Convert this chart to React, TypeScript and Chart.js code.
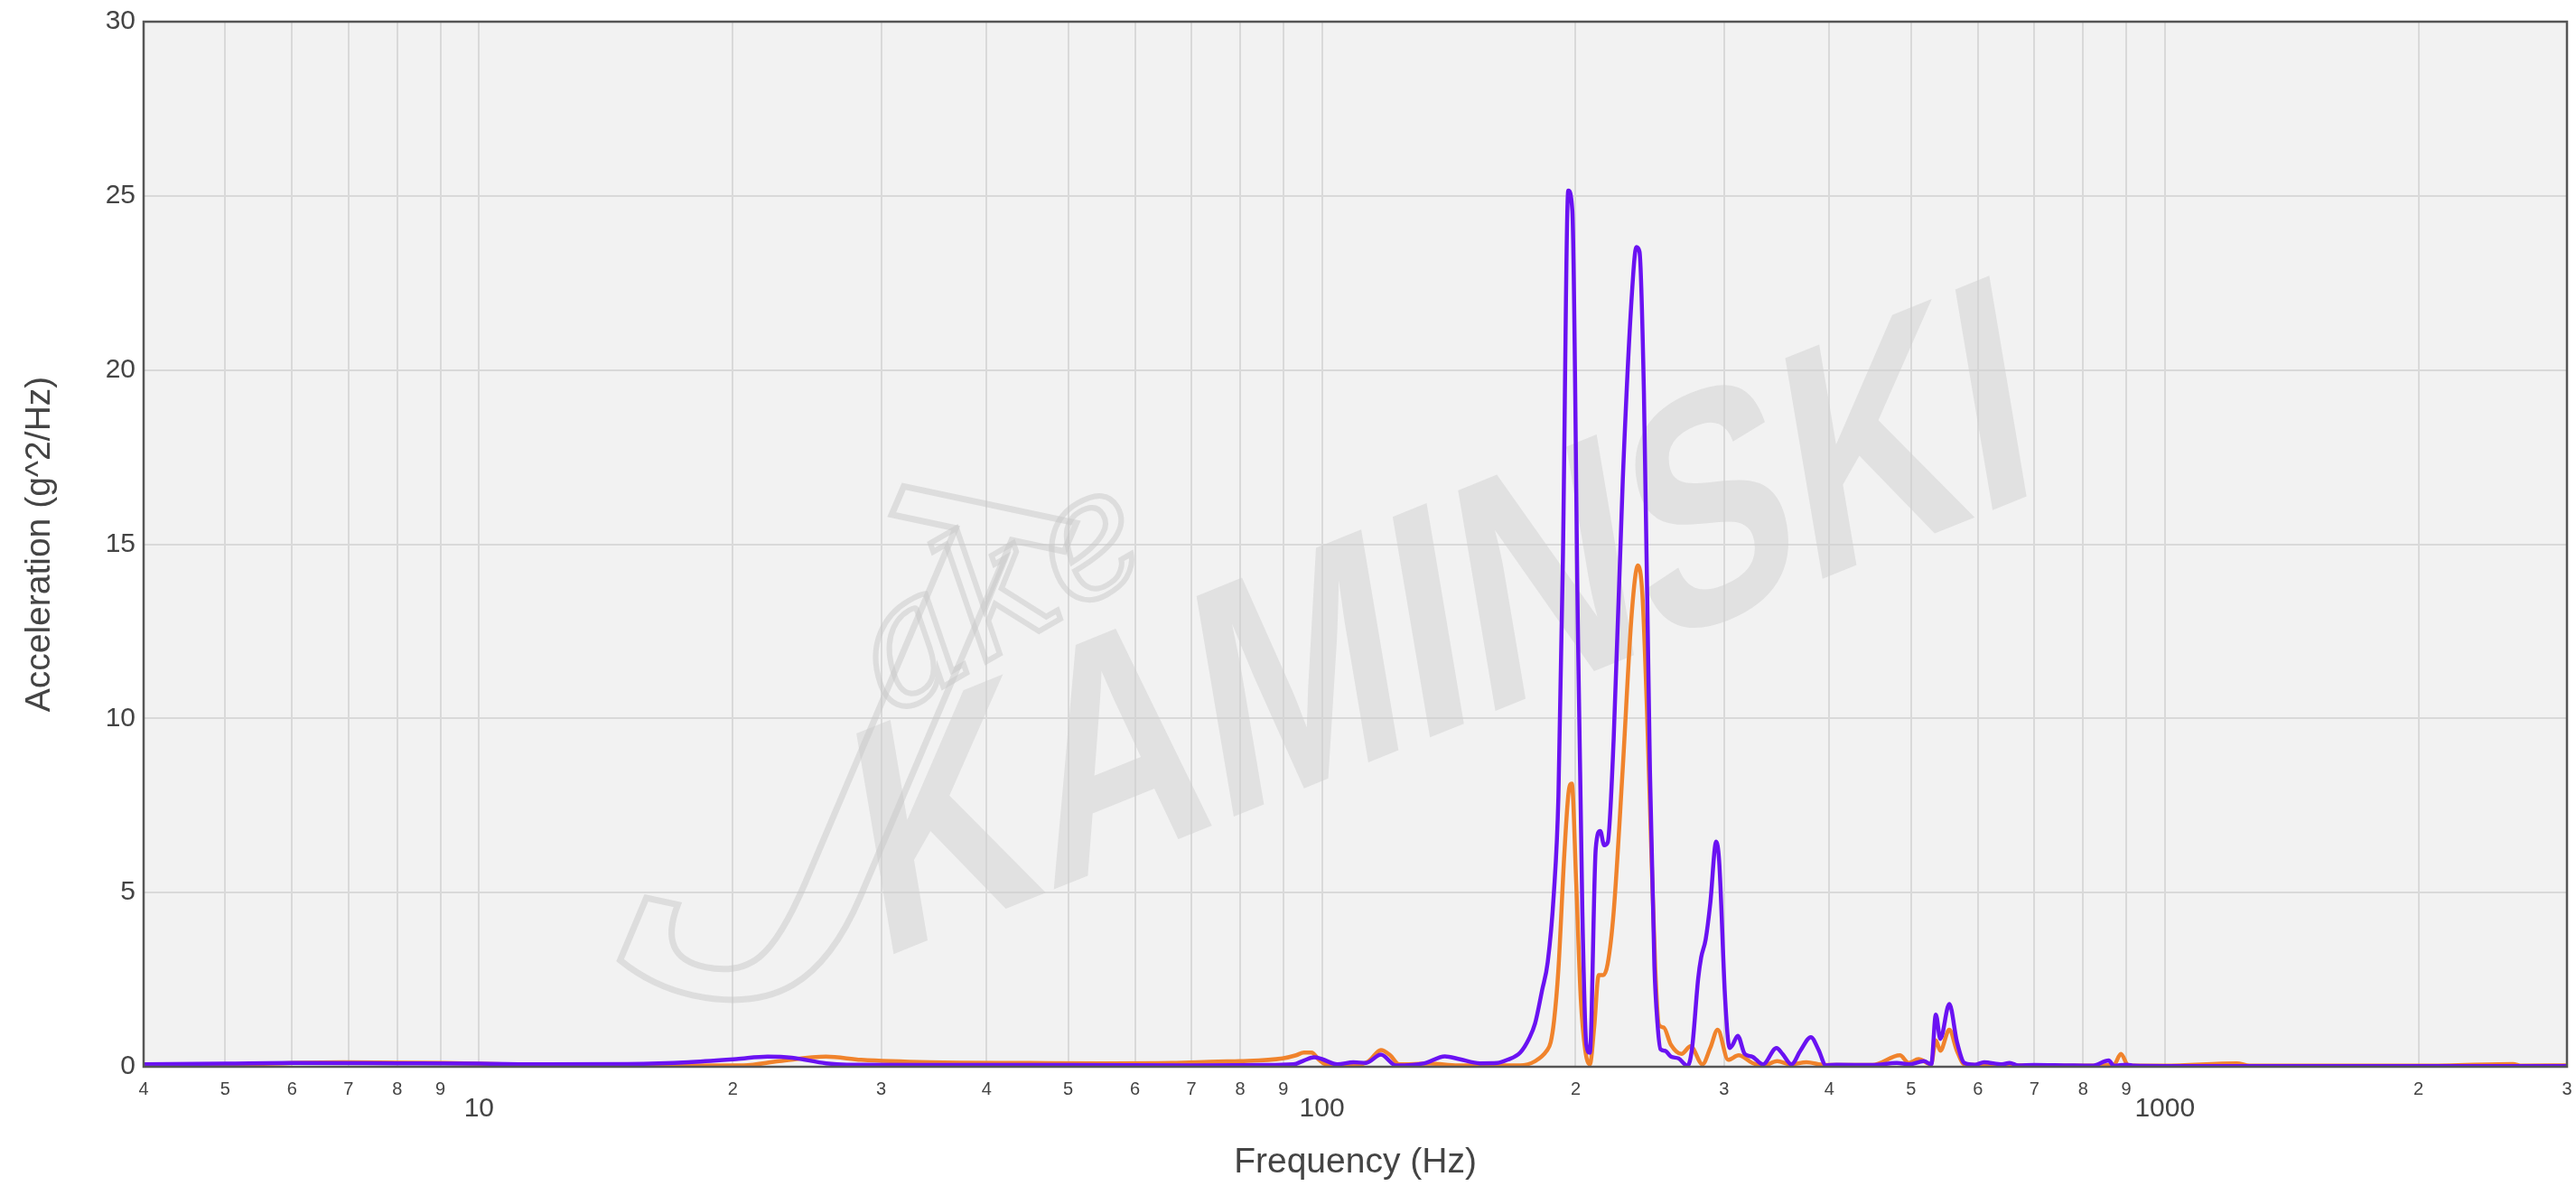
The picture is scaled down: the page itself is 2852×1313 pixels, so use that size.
import React, { useEffect, useRef } from "react";
import { Chart, registerables } from "chart.js";

Chart.register(...registerables);

// ---------- data ----------
const PURPLE_FREQ = [
  4, 5, 6, 8, 10, 12, 15, 17.7, 20.2, 22, 23.5, 25.8, 27.3, 35, 50, 70, 85, 92.5, 95.2, 97.9,
  100, 104.3, 109, 112.8, 117.5, 122.4, 132.3, 139.9, 145.5, 154, 161.5, 166, 171.9, 176, 179,
  182.5, 185.3, 188.4, 190.8, 193.1, 196, 198.2, 201.2, 203.7, 205.9, 207.9, 211.3, 213.9, 216.2,
  218.3, 221.9, 227.5, 233.2, 236.1, 238.1, 241, 245, 248, 250.1, 252.2, 255.3, 259.5, 264.9,
  271.5, 274.9, 279.5, 281.8, 285.3, 288.9, 293.6, 296, 300.9, 304.6, 307.1, 311.4, 317.4, 324,
  333.6, 346.2, 351.9, 360.7, 369.5, 380.3, 388.1, 396.3, 408, 450, 480.9, 497, 517.8, 528.4,
  535, 541.6, 555.1, 566.7, 578.4, 595, 610.3, 641.2, 654.5, 670, 700, 760, 820, 858, 870, 900,
  920, 1000, 1500, 2000, 3000,
];
const PURPLE_VAL = [
  0.07, 0.09, 0.11, 0.1, 0.09, 0.07, 0.08, 0.13, 0.22, 0.29, 0.26, 0.1, 0.06, 0.05, 0.05, 0.04, 0.05, 0.07, 0.18, 0.27,
  0.22, 0.07, 0.13, 0.11, 0.35, 0.04, 0.1, 0.3, 0.22, 0.1, 0.11, 0.2, 0.41, 0.8, 1.24,
  2.2, 3.0, 4.95, 7.76, 14.4, 25.15, 24.57, 12.7, 4.45, 0.65, 0.4, 6.27, 6.77, 6.36,
  6.44, 9.42, 16.87, 22.17, 23.53, 23.4, 19.35, 8.5, 2.9, 1.24, 0.5, 0.46, 0.29, 0.24,
  0.03, 0.54, 2.53, 3.14, 3.66, 4.69, 6.46, 5.9, 1.93, 0.54, 0.63, 0.89, 0.37, 0.29,
  0.07, 0.54, 0.37, 0.07, 0.46, 0.85, 0.5, 0.04, 0.06, 0.05, 0.11, 0.07, 0.16, 0.07,
  1.5, 0.8, 1.8, 0.72, 0.11, 0.06, 0.13, 0.07, 0.11, 0.04, 0.05, 0.04, 0.03, 0.18, 0.03, 0.06,
  0.03, 0.02, 0.02, 0.02, 0.02,
];

const ORANGE_FREQ = [
  4, 5, 6.9, 9.1, 11.2, 14.6, 20.6, 22.7, 25.8, 28.4, 34.3, 45, 54.8, 66.4, 75.3, 80, 89.8, 93.2,
  95.2, 97.2, 99.2, 101.7, 109, 113.6, 117.5, 120.5, 123.5, 134.3, 145, 171.8, 179, 184.8, 186.8,
  188.5, 190.8, 193.9, 196.3, 197.9, 200.3, 202.8, 205.3, 207.9, 210.4, 213, 215.7, 218.3, 221.9,
  227.5, 233.2, 237.1, 240, 243, 246, 248.6, 251.1, 254.3, 259.5, 267.1, 273.8, 282.8, 288.9,
  294.8, 303.4, 312.2, 324, 334, 346.9, 360, 375.6, 395, 450, 484.9, 497, 510.2, 528, 535, 541.6,
  555, 566.7, 578.4, 620, 700, 800, 870, 887, 905, 1000, 1218, 1260, 2000, 2588, 2650, 3000,
];
const ORANGE_VAL = [
  0.03, 0.06, 0.13, 0.11, 0.06, 0.03, 0.04, 0.16, 0.29, 0.2, 0.13, 0.11, 0.1, 0.11, 0.15, 0.16, 0.24, 0.33,
  0.41, 0.41, 0.2, 0.04, 0.03, 0.16, 0.48, 0.33, 0.07, 0.09, 0.04, 0.04, 0.16, 0.46, 0.7,
  1.3, 2.8, 6.1, 7.93, 8.13, 5.28, 1.97, 0.48, 0.07, 1.14, 2.63, 2.63, 2.96, 4.45,
  8.6, 13.06, 14.39, 13.56, 10.25, 6.1, 2.8, 1.2, 1.13, 0.63, 0.37, 0.59, 0.07, 0.54,
  1.06, 0.2, 0.33, 0.11, 0.03, 0.16, 0.07, 0.13, 0.05, 0.05, 0.33, 0.11, 0.22, 0.07, 0.76, 0.46,
  1.06, 0.46, 0.07, 0.04, 0.04, 0.03, 0.05, 0.37, 0.04, 0.03, 0.1, 0.03, 0.03, 0.08, 0.03, 0.04,
];

const X_TICKS = [
  4, 5, 6, 7, 8, 9, 10, 20, 30, 40, 50, 60, 70, 80, 90, 100, 200, 300, 400, 500, 600, 700, 800,
  900, 1000, 2000, 3000,
];
const X_TICK_LABELS = [
  "4", "5", "6", "7", "8", "9", "10", "2", "3", "4", "5", "6", "7", "8", "9", "100", "2", "3", "4",
  "5", "6", "7", "8", "9", "1000", "2", "3",
];
const X_MAJOR = [10, 100, 1000];

const X_TITLE = "Frequency (Hz)";
const Y_TITLE = "Acceleration (g^2/Hz)";

const FONT = '"Liberation Sans", Arial, sans-serif';
const TEXT_COLOR = "#444444";
const PURPLE = "#6a12f2";
const ORANGE = "#f0832c";

const backgroundAndFrame = {
  id: "backgroundAndFrame",
  beforeDraw(chart: any) {
    const { ctx, chartArea } = chart;
    ctx.save();
    ctx.fillStyle = "#f2f2f2";
    ctx.fillRect(chartArea.left, chartArea.top, chartArea.right - chartArea.left, chartArea.bottom - chartArea.top);
    ctx.restore();
  },
  beforeDatasetsDraw(chart: any) {
    const { ctx, chartArea } = chart;
    ctx.save();
    ctx.beginPath();
    ctx.rect(chartArea.left, chartArea.top, chartArea.right - chartArea.left, chartArea.bottom - chartArea.top);
    ctx.clip();
    // watermark: KAMINSKI
    ctx.save();
    ctx.translate(1600, 705);
    ctx.rotate((-22 * Math.PI) / 180);
    ctx.transform(1, 0, -0.22, 1, 0, 0);
    ctx.scale(0.76, 0.95);
    ctx.font = `900 370px ${FONT}`;
    ctx.textAlign = "center";
    ctx.textBaseline = "middle";
    ctx.fillStyle = "rgba(208,208,208,0.5)";
    ctx.fillText("KAMINSKI", 0, 0);
    ctx.restore();
    // watermark: signature
    ctx.save();
    ctx.translate(975, 840);
    ctx.rotate((12 * Math.PI) / 180);
    ctx.font = `italic 640px "DejaVu Serif", serif`;
    ctx.textAlign = "center";
    ctx.textBaseline = "middle";
    ctx.strokeStyle = "rgba(200,200,200,0.5)";
    ctx.lineWidth = 7;
    ctx.strokeText("J", 0, 0);
    ctx.restore();
    ctx.save();
    ctx.translate(1110, 665);
    ctx.rotate((-30 * Math.PI) / 180);
    ctx.font = `italic 190px "DejaVu Serif", serif`;
    ctx.textAlign = "center";
    ctx.textBaseline = "middle";
    ctx.strokeStyle = "rgba(200,200,200,0.5)";
    ctx.lineWidth = 6;
    ctx.strokeText("ake", 0, 0);
    ctx.restore();
    ctx.restore();
  },
  afterDraw(chart: any) {
    const { ctx, chartArea } = chart;
    ctx.save();
    ctx.strokeStyle = "#555555";
    ctx.lineWidth = 2.5;
    ctx.strokeRect(chartArea.left, chartArea.top, chartArea.right - chartArea.left, chartArea.bottom - chartArea.top);
    ctx.restore();
  },
};

export default function App() {
  const canvasRef = useRef<HTMLCanvasElement | null>(null);

  useEffect(() => {
    if (!canvasRef.current) return;
    const purpleData = PURPLE_FREQ.map((f, i) => ({ x: f, y: PURPLE_VAL[i] }));
    const orangeData = ORANGE_FREQ.map((f, i) => ({ x: f, y: ORANGE_VAL[i] }));
    const chart = new Chart(canvasRef.current, {
      type: "line",
      data: {
        datasets: [
          {
            label: "Purple",
            data: purpleData,
            borderColor: PURPLE,
            borderWidth: 4.5,
            pointRadius: 0,
            fill: false,
            cubicInterpolationMode: "monotone",
          },
          {
            label: "Orange",
            data: orangeData,
            borderColor: ORANGE,
            borderWidth: 4.5,
            pointRadius: 0,
            fill: false,
            cubicInterpolationMode: "monotone",
          },
        ],
      },
      options: {
        animation: false,
        responsive: true,
        maintainAspectRatio: false,
        layout: { padding: { left: 0, top: 24, right: 10, bottom: 0 } },
        plugins: { legend: { display: false }, tooltip: { enabled: false } },
        scales: {
          x: {
            type: "logarithmic",
            min: 4,
            max: 3000,
            position: "bottom",
            border: { display: false },
            grid: { color: "#d9d9d9", lineWidth: 2, drawTicks: false },
            afterBuildTicks: (scale: any) => {
              scale.ticks = X_TICKS.map((v) => ({ value: v }));
            },
            afterFit: (scale: any) => {
              scale.height = 132;
              scale.paddingLeft = 0;
              scale.paddingRight = 0;
            },
            ticks: {
              autoSkip: false,
              maxRotation: 0,
              minRotation: 0,
              padding: 13,
              color: TEXT_COLOR,
              font: (ctx: any) =>
                ctx.tick && X_MAJOR.includes(ctx.tick.value)
                  ? { family: FONT, size: 30, lineHeight: 2.27 }
                  : { family: FONT, size: 20 },
              callback: (_value: any, index: number) => X_TICK_LABELS[index],
            },
            title: {
              display: true,
              text: X_TITLE,
              color: TEXT_COLOR,
              font: { family: FONT, size: 39 },
              padding: { top: 0, bottom: 2 },
            },
          },
          y: {
            min: 0,
            max: 30,
            border: { display: false },
            grid: { color: "#d9d9d9", lineWidth: 2, drawTicks: false },
            afterFit: (scale: any) => {
              scale.width = 159;
              scale.paddingTop = 0;
              scale.paddingBottom = 0;
            },
            ticks: {
              stepSize: 5,
              padding: 9,
              color: TEXT_COLOR,
              font: { family: FONT, size: 30 },
            },
            title: {
              display: true,
              text: Y_TITLE,
              color: TEXT_COLOR,
              font: { family: FONT, size: 39 },
              padding: { top: 21, bottom: 0 },
            },
          },
        },
      },
      plugins: [backgroundAndFrame],
    });
    return () => chart.destroy();
  }, []);

  return (
    <div style={{ position: "fixed", left: 0, top: 0, width: 2852, height: 1313, background: "#ffffff" }}>
      <canvas ref={canvasRef} />
    </div>
  );
}
